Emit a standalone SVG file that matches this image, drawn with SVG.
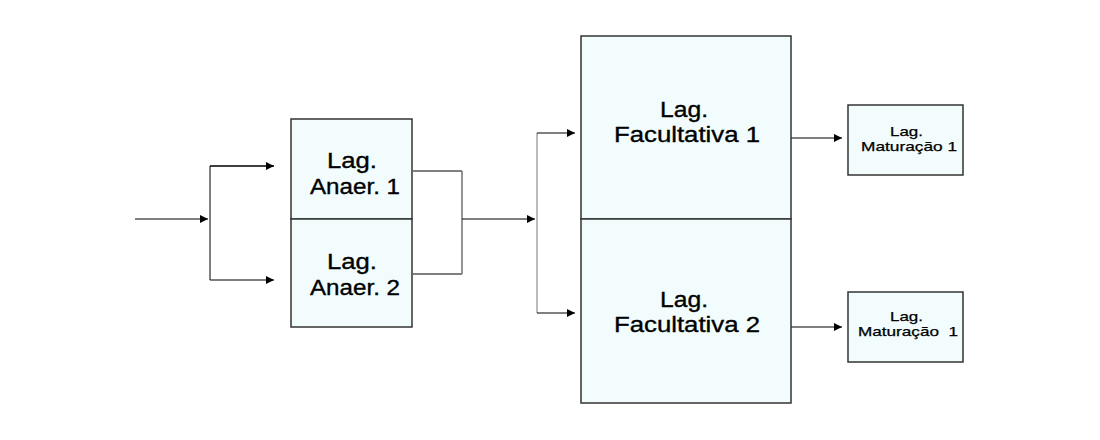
<svg xmlns="http://www.w3.org/2000/svg" width="1100" height="440" viewBox="0 0 1100 440">
<defs>
<style>
.box{fill:#f2fcfc;stroke:#333;stroke-width:1.5}
.ln{fill:none;stroke:#000;stroke-width:1}
.t{font-family:"Liberation Sans",Arial,sans-serif;fill:#000;stroke:#000;stroke-width:0.35}
.big{font-size:22px}
.sm{font-size:13px;stroke-width:0.25}
</style>
<marker id="ah" viewBox="0 0 8 8" refX="8" refY="4" markerWidth="8" markerHeight="8" markerUnits="userSpaceOnUse" orient="auto">
<path d="M0,0 L8,4 L0,8 z" fill="#000"/>
</marker>
</defs>
<rect width="1100" height="440" fill="#fff"/>
<g id="connectors">
<line class="ln" x1="135" y1="219" x2="208" y2="219" marker-end="url(#ah)"/>
<polyline class="ln" points="274,166 210,166 210,280 274,280" marker-end="url(#ah)"/>
<line class="ln" x1="210" y1="166" x2="274" y2="166" marker-end="url(#ah)"/>
<polyline class="ln" points="413,171 462,171 462,274 413,274"/>
<line x1="462" y1="171" x2="462" y2="274" stroke="#aaa" stroke-width="1"/>
<line class="ln" x1="462" y1="219" x2="535" y2="219" marker-end="url(#ah)"/>
<line x1="537" y1="133" x2="537" y2="313" stroke="#777" stroke-width="1"/>
<line class="ln" x1="537" y1="133" x2="575" y2="133" marker-end="url(#ah)"/>
<line class="ln" x1="537" y1="313" x2="575" y2="313" marker-end="url(#ah)"/>
<line class="ln" x1="791" y1="138" x2="842" y2="138" marker-end="url(#ah)"/>
<line class="ln" x1="791" y1="327" x2="842" y2="327" marker-end="url(#ah)"/>
</g>
<g id="anaer1">
<rect class="box" x="291" y="119" width="121" height="100"/>
<text class="t big" x="327" y="168" textLength="50" lengthAdjust="spacingAndGlyphs">Lag.</text>
<text class="t big" x="310" y="194" textLength="90" lengthAdjust="spacingAndGlyphs">Anaer. 1</text>
</g>
<g id="anaer2">
<rect class="box" x="291" y="219" width="121" height="108"/>
<text class="t big" x="327" y="269" textLength="50" lengthAdjust="spacingAndGlyphs">Lag.</text>
<text class="t big" x="310" y="295" textLength="90" lengthAdjust="spacingAndGlyphs">Anaer. 2</text>
</g>
<g id="facultativa1">
<rect class="box" x="581" y="36" width="210" height="183"/>
<text class="t big" x="660" y="117" textLength="48" lengthAdjust="spacingAndGlyphs">Lag.</text>
<text class="t big" x="614" y="142" textLength="146" lengthAdjust="spacingAndGlyphs">Facultativa 1</text>
</g>
<g id="facultativa2">
<rect class="box" x="581" y="219" width="210" height="184"/>
<text class="t big" x="660" y="307" textLength="48" lengthAdjust="spacingAndGlyphs">Lag.</text>
<text class="t big" x="614" y="332" textLength="146" lengthAdjust="spacingAndGlyphs">Facultativa 2</text>
</g>
<g id="maturacao1">
<rect class="box" x="848" y="105" width="115" height="70"/>
<text class="t sm" x="890" y="136" textLength="33" lengthAdjust="spacingAndGlyphs">Lag.</text>
<text class="t sm" x="861" y="151" textLength="96" lengthAdjust="spacingAndGlyphs">Maturação 1</text>
</g>
<g id="maturacao2">
<rect class="box" x="848" y="292" width="115" height="70"/>
<text class="t sm" x="890" y="321" textLength="33" lengthAdjust="spacingAndGlyphs">Lag.</text>
<text class="t sm" x="858" y="336" textLength="100" lengthAdjust="spacingAndGlyphs" xml:space="preserve">Maturação  1</text>
</g>
</svg>
